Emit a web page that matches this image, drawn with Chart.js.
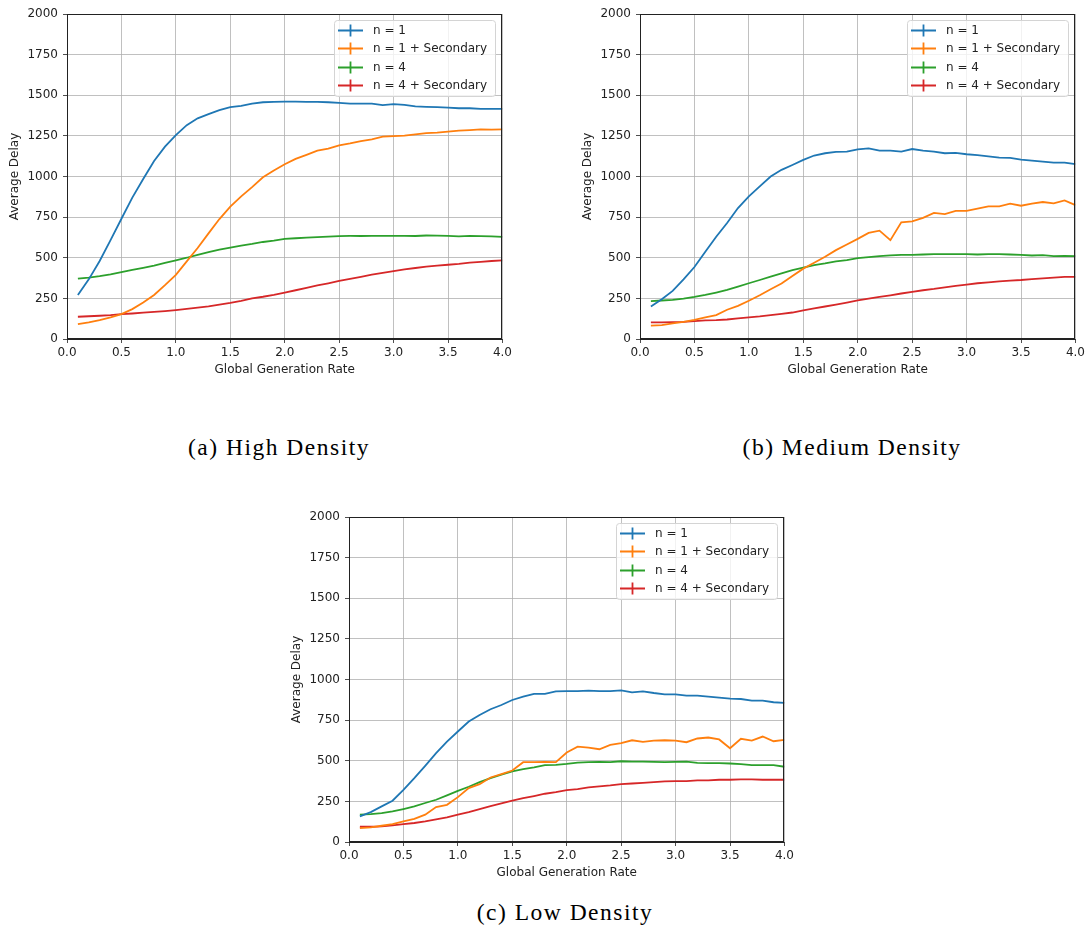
<!DOCTYPE html>
<html>
<head>
<meta charset="utf-8">
<script src="https://cdn.jsdelivr.net/npm/chart.js@4/dist/chart.umd.min.js"></script>
<style>
  body { margin: 0; width: 1090px; height: 935px; background: #fff; position: relative; overflow: hidden; }
  .panel { position: absolute; width: 515px; height: 385px; }
  .caption { position: absolute; font-family: "Liberation Serif", serif; font-size: 23.5px; letter-spacing: 1.5px; color: #000; transform: translate(-50%, -50%); white-space: nowrap; }
</style>
</head>
<body>
<div class="panel" style="left:0;top:0"><canvas id="high" width="515" height="385"></canvas></div>
<div class="panel" style="left:573px;top:0"><canvas id="medium" width="515" height="385"></canvas></div>
<div class="panel" style="left:282px;top:503px"><canvas id="low" width="515" height="385"></canvas></div>
<div class="caption" style="left:279px;top:447px">(a) High Density</div>
<div class="caption" style="left:852px;top:447px">(b) Medium Density</div>
<div class="caption" style="left:565px;top:912px">(c) Low Density</div>
<script>
// global generation rate
const rates = [0.1, 0.2, 0.3, 0.4, 0.5, 0.6, 0.7, 0.8, 0.9, 1.0,
  1.1, 1.2, 1.3, 1.4, 1.5, 1.6, 1.7, 1.8, 1.9, 2.0,
  2.1, 2.2, 2.3, 2.4, 2.5, 2.6, 2.7, 2.8, 2.9, 3.0,
  3.1, 3.2, 3.3, 3.4, 3.5, 3.6, 3.7, 3.8, 3.9, 4.0];

const seriesNames = ["n = 1", "n = 1 + Secondary", "n = 4", "n = 4 + Secondary"];
const seriesColors = ["#1f77b4", "#ff7f0e", "#2ca02c", "#d62728"];

const yTicks = { min: 0, max: 2000, step: 250 };
const xTicks = { min: 0, max: 4, step: 0.5 };

// high density
const highN1 = [271, 367, 480, 608, 740, 870, 985, 1095, 1184, 1255, 1316, 1358, 1384, 1408, 1427, 1435, 1449, 1457, 1459, 1461,
  1461, 1459, 1459, 1457, 1453, 1449, 1449, 1449, 1439, 1445, 1441, 1431, 1429, 1427, 1424, 1420, 1420, 1416, 1416, 1416];
const highN1Sec = [92, 102, 116, 133, 153, 184, 224, 271, 331, 395, 478, 560, 650, 738, 815, 878, 935, 995, 1037, 1075,
  1108, 1133, 1159, 1171, 1192, 1204, 1218, 1229, 1245, 1249, 1251, 1259, 1267, 1270, 1276, 1282, 1286, 1290, 1288, 1290];
const highN4 = [371, 378, 387, 398, 412, 425, 438, 452, 468, 484, 500, 518, 535, 550, 563, 575, 585, 597, 605, 616,
  620, 624, 627, 630, 633, 634, 634, 635, 635, 635, 634, 634, 637, 636, 635, 632, 634, 633, 632, 629];
const highN4Sec = [137, 140, 143, 147, 153, 157, 162, 167, 172, 178, 185, 193, 201, 211, 222, 235, 250, 260, 272, 286,
  300, 315, 330, 343, 357, 370, 383, 396, 407, 418, 428, 437, 445, 451, 457, 462, 470, 475, 480, 484];

// medium density
const medN1 = [200, 245, 296, 367, 443, 537, 629, 714, 806, 878, 939, 1000, 1041, 1071, 1102, 1129, 1143, 1151, 1153, 1167,
  1173, 1159, 1159, 1153, 1169, 1159, 1153, 1143, 1145, 1137, 1131, 1124, 1116, 1114, 1104, 1098, 1092, 1086, 1086, 1076];
const medN1Sec = [82, 86, 96, 106, 118, 133, 147, 180, 204, 235, 269, 306, 341, 388, 433, 469, 506, 547, 582, 616,
  653, 667, 608, 718, 724, 745, 776, 769, 788, 788, 802, 816, 816, 833, 820, 833, 843, 835, 853, 824];
const medN4 = [233, 237, 241, 249, 259, 271, 286, 302, 322, 343, 363, 384, 404, 424, 439, 455, 465, 478, 486, 498,
  504, 510, 514, 518, 518, 520, 522, 522, 522, 522, 520, 522, 522, 520, 518, 514, 516, 510, 512, 510];
const medN4Sec = [102, 102, 104, 106, 110, 114, 116, 120, 127, 133, 139, 147, 155, 163, 176, 188, 200, 212, 224, 237,
  249, 259, 269, 280, 290, 300, 308, 318, 327, 335, 343, 349, 355, 359, 363, 369, 373, 378, 382, 382];

// low density
const lowN1 = [158, 184, 219, 254, 321, 393, 469, 547, 618, 680, 741, 782, 817, 843, 874, 895, 911, 911, 927, 929,
  929, 931, 929, 929, 933, 921, 927, 917, 909, 909, 901, 901, 895, 888, 882, 880, 870, 870, 860, 856];
const lowN1Sec = [86, 90, 100, 110, 127, 143, 168, 215, 229, 276, 332, 356, 397, 418, 440, 491, 491, 493, 491, 551,
  587, 581, 571, 598, 608, 626, 616, 624, 626, 624, 614, 637, 643, 631, 577, 635, 624, 649, 620, 628];
const lowN4 = [168, 172, 178, 188, 203, 219, 240, 260, 287, 315, 340, 368, 393, 414, 434, 448, 459, 473, 475, 481,
  489, 491, 493, 491, 497, 495, 495, 493, 491, 493, 495, 487, 485, 485, 483, 479, 473, 473, 473, 463];
const lowN4Sec = [94, 94, 96, 102, 110, 117, 127, 139, 151, 168, 184, 203, 221, 237, 254, 270, 283, 297, 307, 319,
  325, 336, 342, 348, 356, 360, 364, 368, 373, 375, 375, 379, 379, 383, 383, 385, 385, 383, 383, 383];

const FONT = "DejaVu Sans";
const INK = "#222";

// axes box on all four sides + legend in the upper right corner
const frameAndKey = {
  id: "frameAndKey",
  afterDraw(chart) {
    const { ctx, chartArea: a } = chart;
    ctx.save();
    ctx.strokeStyle = INK;
    ctx.lineWidth = 1;
    ctx.strokeRect(Math.round(a.left) + 0.5, Math.round(a.top) + 0.5, Math.round(a.right - a.left) - 1, Math.round(a.bottom - a.top) - 1);

    const w = 161, h = 76, rowH = 18.6;
    const left = Math.round(a.right - 7 - w), top = Math.round(a.top + 6);
    ctx.beginPath();
    ctx.roundRect(left + 0.5, top + 0.5, w, h, 3);
    ctx.fillStyle = "rgba(255,255,255,0.8)";
    ctx.fill();
    ctx.strokeStyle = "#d4d4d4";
    ctx.stroke();
    chart.data.datasets.forEach((ds, i) => {
      const y = Math.round(top + 9.5 + i * rowH) + 0.5;
      ctx.strokeStyle = ds.borderColor;
      ctx.lineWidth = 1.8;
      ctx.beginPath();
      ctx.moveTo(left + 4, y);
      ctx.lineTo(left + 29, y);
      ctx.moveTo(left + 16.5, y - 6);
      ctx.lineTo(left + 16.5, y + 6);
      ctx.stroke();
      ctx.fillStyle = INK;
      ctx.font = `12px "${FONT}"`;
      ctx.textBaseline = "middle";
      ctx.fillText(ds.label, left + 39, y);
    });
    ctx.restore();
  },
};

const axisGrid = { color: "#b0b0b0", lineWidth: 0.8, tickColor: INK, tickLength: 4 };
const tickFont = { family: FONT, size: 12 };

const makeChart = (id, series) => {
  const datasets = series.map((values, i) => ({
    label: seriesNames[i],
    data: rates.map((x, j) => ({ x, y: values[j] })),
    borderColor: seriesColors[i],
    backgroundColor: seriesColors[i],
    borderWidth: 1.8,
    pointRadius: 0,
    tension: 0,
  }));

  return new Chart(document.getElementById(id), {
    type: "line",
    data: { datasets },
    options: {
      responsive: false,
      animation: false,
      devicePixelRatio: 1,
      layout: { padding: { left: 0, right: 10, top: 14, bottom: 0 } },
      plugins: { legend: { display: false }, tooltip: { enabled: false } },
      scales: {
        x: {
          type: "linear",
          min: xTicks.min,
          max: xTicks.max,
          afterFit: (s) => { s.height = 46; },
          ticks: { stepSize: xTicks.step, autoSkip: false, maxRotation: 0, padding: 3, color: INK, font: tickFont,
            callback: (v) => v.toFixed(1) },
          grid: axisGrid,
          border: { color: INK, width: 1 },
          title: { display: true, text: "Global Generation Rate", color: INK, font: tickFont, padding: { top: 0, bottom: 8 } },
        },
        y: {
          min: yTicks.min,
          max: yTicks.max,
          afterFit: (s) => { s.width = 67; },
          ticks: { stepSize: yTicks.step, autoSkip: false, padding: 5, color: INK, font: tickFont,
            callback: (v) => String(v) },
          grid: axisGrid,
          border: { color: INK, width: 1 },
          title: { display: true, text: "Average Delay", color: INK, font: tickFont, padding: { top: 8, bottom: 0 } },
        },
      },
    },
    plugins: [frameAndKey],
  });
};

makeChart("high", [highN1, highN1Sec, highN4, highN4Sec]);
makeChart("medium", [medN1, medN1Sec, medN4, medN4Sec]);
makeChart("low", [lowN1, lowN1Sec, lowN4, lowN4Sec]);
</script>
</body>
</html>
